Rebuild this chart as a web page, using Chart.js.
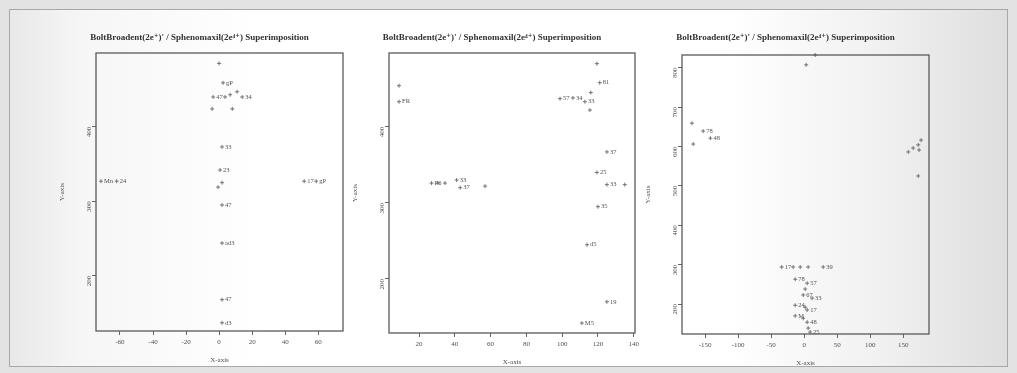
<!DOCTYPE html>
<html>
<head>
<meta charset="utf-8">
<script src="https://cdn.jsdelivr.net/npm/chart.js@4"></script>
<style>
  body { margin: 0; width: 1017px; height: 373px; background: #e3e3e3; position: relative; overflow: hidden; }
  #frame { position: absolute; left: 9px; top: 9px; width: 997px; height: 356px; border: 1px solid #a8a8a8;
    background: linear-gradient(to right, #e8e8e8 0%, #f6f6f6 7%, #fff 25%, #fff 72%, #f0f0f0 88%, #dedede 100%); }
  canvas { position: absolute; }
</style>
</head>
<body>
<div id="frame"></div>
<canvas id="c1" style="left:56px;top:28px" width="301" height="337"></canvas>
<canvas id="c2" style="left:349px;top:28px" width="300" height="339"></canvas>
<canvas id="c3" style="left:642px;top:28px" width="301" height="340"></canvas>
<script>
// scanned figure: three superimposition scatter plots
const titleText = "BoltBroadent(2e\u207A)' / Sphenomaxil(2e\u2074\u207A) Superimposition";

// left plot
const p1X = [0, 2.4, -3.6, 3.6, 6.7, 10.9, 14, -4.2, 8, 1.8, 0.6, 1.8, -0.6, 1.8, 1.8, 1.8, 1.8, -71.5, -62, 51.5, 58.8];
const p1Y = [485, 459, 440, 440, 443, 447, 440, 424, 424, 373, 342, 325, 319, 295, 244, 168, 137, 327, 327, 327, 327];
const p1Names = ['', 'gP', '47', '', '', '', '34', '', '', '33', '23', '', '', '47', 'ad3', '47', 'd3', 'Mn', '24', '17', 'gP'];
const p1XTicks = [-60, -40, -20, 0, 20, 40, 60];
const p1YTicks = [200, 300, 400];

// middle plot
const p2X = [8.8, 8.8, 119.4, 121, 98.8, 106, 112.7, 116, 115.5, 125, 119.4, 125, 135, 120, 113.9, 125, 111, 27, 30.5, 34.5, 41, 43, 56.9];
const p2Y = [454, 433, 483, 458, 437, 438, 433, 445, 422, 367, 340, 324, 324, 295, 245, 170, 142, 326, 326, 326, 330, 320, 322];
const p2Names = ['', 'FR', '', '81', '57', '34', '33', '', '', '37', '25', '33', '', '35', 'd5', '19', 'M5', 'P6', '', '', '33', '37', ''];
const p2XTicks = [20, 40, 60, 80, 100, 120, 140];
const p2YTicks = [200, 300, 400];

// right plot
const p3X = [3, 16.7, -170, -168, -153, -142, 157.6, 165, 172.7, 177, 174, 172.7, -34, -16.7, -6, 6, 28.8, -13.6, 4.5, 1.5, -1.5, 12, -13.6, 1.5, 4.5, -13.6, -1.5, 4.5, 6, 9];
const p3Y = [807, 832, 659, 606, 639, 621, 586, 596, 604, 616, 591, 525, 294, 294, 294, 294, 294, 263, 253, 238, 223, 215, 197, 192, 185, 170, 164, 154, 139, 129];
const p3Names = ['', '', '', '', '78', '48', '', '', '', '', '', '', '17', '', '', '', '39', '78', '57', '', '67', '33', '24', '', '17', 'M', '', '48', '', '25'];
const p3XTicks = [-150, -100, -50, 0, 50, 100, 150];
const p3YTicks = [200, 300, 400, 500, 600, 700, 800];

const ink = '#505050';
const serif = '"Liberation Serif", "DejaVu Serif", serif';

// frame round the plot area
const boxPlugin = {
    id: 'box',
    afterDraw(chart) {
        const a = chart.chartArea;
        const ctx = chart.ctx;
        ctx.save();
        ctx.strokeStyle = '#5a5a5a';
        ctx.lineWidth = 1.3;
        ctx.strokeRect(a.left, a.top, a.right - a.left, a.bottom - a.top);
        ctx.restore();
    }
};

// little text tags next to each marker
const tagPlugin = {
    id: 'tags',
    afterDatasetsDraw(chart, args, opts) {
        const ctx = chart.ctx;
        const meta = chart.getDatasetMeta(0);
        ctx.save();
        ctx.font = '6.5px ' + serif;
        ctx.fillStyle = ink;
        ctx.textBaseline = 'middle';
        meta.data.forEach((pt, i) => {
            if (opts.names[i]) ctx.fillText(opts.names[i], pt.x + 3, pt.y);
        });
        ctx.restore();
    }
};

function makeChart(id, xs, ys, names, xTicks, yTicks, xr, yr, titleBottom) {
    const pts = xs.map((x, i) => ({ x: x, y: ys[i] }));
    return new Chart(document.getElementById(id), {
        type: 'scatter',
        data: {
            datasets: [{
                data: pts,
                pointStyle: 'cross',
                pointRadius: 2,
                borderColor: '#666',
                borderWidth: 0.9,
                clip: false
            }]
        },
        options: {
            responsive: false,
            animation: false,
            layout: { padding: { right: 14, left: 0, top: 0, bottom: 0 } },
            plugins: {
                legend: { display: false },
                tooltip: { enabled: false },
                title: {
                    display: true,
                    text: titleText,
                    color: '#333',
                    font: { family: serif, size: 9, weight: 'bold', lineHeight: 1 },
                    padding: { top: 5, bottom: titleBottom }
                },
                tags: { names: names }
            },
            scales: {
                x: {
                    type: 'linear',
                    min: xr[0], max: xr[1],
                    afterBuildTicks: s => { s.ticks = xTicks.map(v => ({ value: v })); },
                    afterFit: s => { s.height = 34; },
                    grid: { drawOnChartArea: false, tickLength: 4, color: '#666' },
                    border: { display: false },
                    ticks: { color: ink, font: { family: serif, size: 7 }, maxRotation: 0, padding: 3 },
                    title: { display: true, text: 'X-axis', color: ink, font: { family: serif, size: 7 }, padding: 1 }
                },
                y: {
                    type: 'linear',
                    min: yr[0], max: yr[1],
                    afterBuildTicks: s => { s.ticks = yTicks.map(v => ({ value: v })); },
                    afterFit: s => { s.width = 40; },
                    grid: { drawOnChartArea: false, tickLength: 4, color: '#666' },
                    border: { display: false },
                    ticks: { color: ink, font: { family: serif, size: 7 }, minRotation: 90, maxRotation: 90, padding: 3 },
                    title: { display: true, text: 'Y-axis', color: ink, font: { family: serif, size: 7 }, padding: 2 }
                }
            }
        },
        plugins: [boxPlugin, tagPlugin]
    });
}

makeChart('c1', p1X, p1Y, p1Names, p1XTicks, p1YTicks, [-74.5, 75], [126, 499], 11);
makeChart('c2', p2X, p2Y, p2Names, p2XTicks, p2YTicks, [3.2, 140.7], [129, 497], 11);
makeChart('c3', p3X, p3Y, p3Names, p3XTicks, p3YTicks, [-185, 189], [124, 832], 13);
</script>
</body>
</html>
